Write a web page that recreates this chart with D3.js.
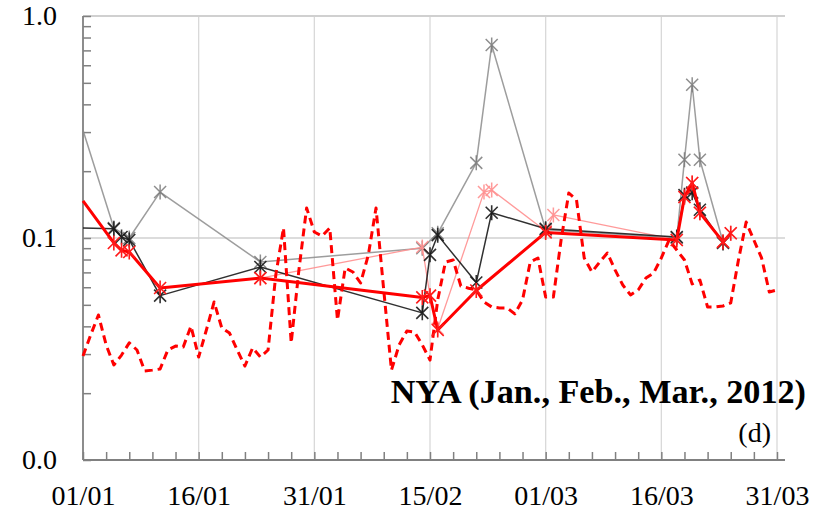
<!DOCTYPE html>
<html>
<head>
<meta charset="utf-8">
<script src="https://cdn.jsdelivr.net/npm/d3@7"></script>
<style>
  body { margin: 0; background: #fff; }
  svg { display: block; }
</style>
</head>
<body>
<div id="chart"></div>
<script>
// daily values (red dashed), one per day starting 01/01/2012
const dailyStart = "2012-01-01";
const dailyValues = [
  0.0294, 0.0366, 0.0450, 0.0330, 0.0268, 0.0297, 0.0337, 0.0313, 0.0252, 0.0254,
  0.0257, 0.0313, 0.0326, 0.0323, 0.0401, 0.0291, 0.0385, 0.0515, 0.0393, 0.0373,
  0.0313, 0.0265, 0.0320, 0.0291, 0.0313, 0.0681, 0.111, 0.0337, 0.0718, 0.1365,
  0.1064, 0.1021, 0.111, 0.0427, 0.0733, 0.0703, 0.0627, 0.0838, 0.1365, 0.0583,
  0.0254, 0.0330, 0.0381, 0.0377, 0.0330, 0.0282, 0.0526, 0.0779, 0.0796, 0.0608,
  0.0594, 0.0583, 0.0515, 0.0489, 0.0484, 0.0484, 0.0455, 0.0526, 0.0779, 0.0813,
  0.0542, 0.0542, 0.0979, 0.1595, 0.1483, 0.0813, 0.0703, 0.0779, 0.0856, 0.0718,
  0.0614, 0.0554, 0.0583, 0.0660, 0.0696, 0.0813, 0.0979, 0.0883, 0.0796, 0.0621,
  0.0647, 0.0489, 0.0489, 0.0494, 0.0510, 0.0796, 0.118, 0.0979, 0.0813, 0.0571,
  0.0583
];

// gray series
const grayDates = ["2012-01-01", "2012-01-05", "2012-01-07", "2012-01-11", "2012-01-24",
  "2012-02-14", "2012-02-16", "2012-02-21", "2012-02-23", "2012-03-01",
  "2012-03-18", "2012-03-19", "2012-03-20", "2012-03-21", "2012-03-24"];
const grayValues = [0.306, 0.111, 0.100, 0.161, 0.078, 0.090, 0.105, 0.218, 0.74, 0.109,
  0.100, 0.225, 0.49, 0.225, 0.096];

// pink series
const pinkDates = ["2012-01-24", "2012-02-14", "2012-02-15", "2012-02-16", "2012-02-22",
  "2012-02-23", "2012-03-01", "2012-03-02", "2012-03-18", "2012-03-19",
  "2012-03-20", "2012-03-21", "2012-03-24", "2012-03-25"];
const pinkValues = [0.066, 0.091, 0.055, 0.039, 0.161, 0.1645, 0.1075, 0.127, 0.098, 0.153,
  0.177, 0.130, 0.096, 0.105];

// black series
const blackDates = ["2012-01-01", "2012-01-05", "2012-01-06", "2012-01-07", "2012-01-11",
  "2012-01-24", "2012-02-14", "2012-02-15", "2012-02-16", "2012-02-21",
  "2012-02-23", "2012-03-01", "2012-03-18", "2012-03-19", "2012-03-20",
  "2012-03-21", "2012-03-24"];
const blackValues = [0.111, 0.110, 0.101, 0.098, 0.055, 0.074, 0.046, 0.084, 0.103, 0.063,
  0.130, 0.110, 0.101, 0.156, 0.160, 0.134, 0.095];

// red thick series
const redDates = ["2012-01-01", "2012-01-05", "2012-01-06", "2012-01-07", "2012-01-11",
  "2012-01-24", "2012-02-14", "2012-02-15", "2012-02-16", "2012-02-21",
  "2012-03-01", "2012-03-18", "2012-03-19", "2012-03-20", "2012-03-21",
  "2012-03-24", "2012-03-25"];
const redValues = [0.147, 0.095, 0.088, 0.0865, 0.0595, 0.066, 0.054, 0.055, 0.0385, 0.058,
  0.106, 0.098, 0.153, 0.177, 0.130, 0.096, 0.105];

// ticks
const yTickValues = [0.01, 0.1, 1];
const yTickLabels = ["0.0", "0.1", "1.0"];
const yMinorTicks = [0.02, 0.03, 0.04, 0.05, 0.06, 0.07, 0.08, 0.09,
  0.2, 0.3, 0.4, 0.5, 0.6, 0.7, 0.8, 0.9];
const xTickLabels = ["01/01", "16/01", "31/01", "15/02", "01/03", "16/03", "31/03"];
const titleText = "NYA (Jan., Feb., Mar., 2012)";
const panelText = "(d)";

const width = 834;
const height = 518;
const plotLeft = 83, plotRight = 777, plotTop = 16, plotBottom = 460;

const parse = d3.timeParse("%Y-%m-%d");
const start = parse(dailyStart);
const end = parse("2012-03-31");

const x = d3.scaleTime().domain([start, end]).range([plotLeft, plotRight]);
const y = d3.scaleLog().domain([0.01, 1]).range([plotBottom, plotTop]);

const svg = d3.select("#chart").append("svg")
  .attr("width", width).attr("height", height);

const serif = "'Liberation Serif', 'Times New Roman', serif";

// grid
const labelDates = d3.range(0, 91, 15).map((i) => d3.timeDay.offset(start, i));
svg.append("g").selectAll("line")
  .data(labelDates.slice(1))
  .enter().append("line")
  .attr("x1", (d) => x(d)).attr("x2", (d) => x(d))
  .attr("y1", plotTop).attr("y2", plotBottom)
  .attr("stroke", "#d9d9d9").attr("stroke-width", 1.3);

svg.append("line")
  .attr("x1", plotLeft).attr("x2", plotRight + 8)
  .attr("y1", y(0.1)).attr("y2", y(0.1))
  .attr("stroke", "#d0d0d0").attr("stroke-width", 1.5);

svg.append("line")
  .attr("x1", plotLeft).attr("x2", plotRight + 8)
  .attr("y1", plotTop).attr("y2", plotTop)
  .attr("stroke", "#d0d0d0").attr("stroke-width", 2);

// y axis minor ticks (inside)
const yMinor = svg.append("g")
  .attr("transform", "translate(" + plotLeft + ",0)")
  .call(d3.axisLeft(y).tickValues(yMinorTicks.concat(yTickValues)).tickSize(-8).tickFormat(""));
yMinor.select(".domain").remove();
yMinor.selectAll("line").attr("stroke", "#808080").attr("stroke-width", 1.5);

// y labels
const yLab = svg.append("g")
  .attr("transform", "translate(" + plotLeft + ",0)")
  .call(d3.axisLeft(y).tickValues(yTickValues).tickSize(0).tickPadding(26)
    .tickFormat((d, i) => yTickLabels[i]));
yLab.select(".domain").remove();
yLab.selectAll("text").attr("font-family", serif).attr("font-size", 28).attr("fill", "#000");

// x axis minor ticks every 3 days (inside)
const xTicks = d3.range(0, 91, 3).map((i) => d3.timeDay.offset(start, i));
const xMinor = svg.append("g")
  .attr("transform", "translate(0," + plotBottom + ")")
  .call(d3.axisBottom(x).tickValues(xTicks).tickSize(-8).tickFormat(""));
xMinor.select(".domain").remove();
xMinor.selectAll("line").attr("stroke", "#808080").attr("stroke-width", 1.5);

// x labels
const xLab = svg.append("g")
  .attr("transform", "translate(0," + plotBottom + ")")
  .call(d3.axisBottom(x).tickValues(labelDates).tickSize(0).tickPadding(25)
    .tickFormat((d, i) => xTickLabels[i]));
xLab.select(".domain").remove();
xLab.selectAll("text").attr("font-family", serif).attr("font-size", 28).attr("fill", "#000");

// axis lines
svg.append("line")
  .attr("x1", plotLeft).attr("x2", plotLeft).attr("y1", plotTop).attr("y2", plotBottom)
  .attr("stroke", "#808080").attr("stroke-width", 1.8);
svg.append("line")
  .attr("x1", plotLeft).attr("x2", plotRight + 8).attr("y1", plotBottom).attr("y2", plotBottom)
  .attr("stroke", "#808080").attr("stroke-width", 1.8);

// series
const line = d3.line().x((d) => x(d.date)).y((d) => y(d.value));
const star = "M-6,-6L6,6M-6,6L6,-6M0,-7.5L0,7.5";

const toPoints = (dates, values) => dates.map((d, i) => ({ date: parse(d), value: values[i] }));

const drawSeries = (pts, color, lw, markerColor, mw, opacity) => {
  svg.append("path")
    .datum(pts)
    .attr("d", line)
    .attr("fill", "none")
    .attr("stroke", color)
    .attr("stroke-width", lw)
    .attr("stroke-opacity", opacity)
    .attr("stroke-linejoin", "round");
  svg.append("g").selectAll("path")
    .data(pts.filter((d) => d.date > start))
    .enter().append("path")
    .attr("d", star)
    .attr("transform", (d) => "translate(" + x(d.date) + "," + y(d.value) + ")")
    .attr("fill", "none")
    .attr("stroke", markerColor)
    .attr("stroke-width", mw)
    .attr("stroke-opacity", opacity);
};

drawSeries(toPoints(grayDates, grayValues), "#8c8c8c", 1.5, "#7a7a7a", 1.5, 0.85);
drawSeries(toPoints(pinkDates, pinkValues), "#ff8f8f", 1.3, "#ff8f8f", 1.5, 0.9);
drawSeries(toPoints(blackDates, blackValues), "#1a1a1a", 1.5, "#1a1a1a", 1.6, 0.9);

const daily = dailyValues.map((v, i) => ({ date: d3.timeDay.offset(start, i), value: v }));
svg.append("path")
  .datum(daily)
  .attr("d", line)
  .attr("fill", "none")
  .attr("stroke", "#ff0000")
  .attr("stroke-width", 3)
  .attr("stroke-dasharray", "8,5")
  .attr("stroke-linejoin", "round");

drawSeries(toPoints(redDates, redValues), "#ff0000", 3, "#ff1a1a", 1.6, 1);

// title and panel label
svg.append("text")
  .attr("x", 806).attr("y", 403)
  .attr("text-anchor", "end")
  .attr("font-family", serif).attr("font-weight", "bold").attr("font-size", 34.2)
  .attr("fill", "#000")
  .text(titleText);

svg.append("text")
  .attr("x", 771).attr("y", 442)
  .attr("text-anchor", "end")
  .attr("font-family", serif).attr("font-size", 28)
  .attr("fill", "#000")
  .text(panelText);
</script>
</body>
</html>
